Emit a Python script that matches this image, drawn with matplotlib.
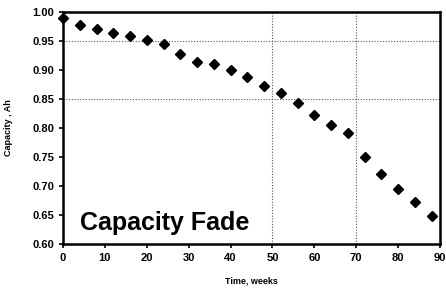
import matplotlib
matplotlib.use("Agg")
import matplotlib.pyplot as plt

# Datos
semanas = [0, 4, 8, 12, 16, 20, 24, 28, 32, 36, 40, 44, 48, 52, 56, 60, 64, 68, 72, 76, 80, 84, 88]
capacidad = [0.989, 0.978, 0.971, 0.964, 0.959, 0.952, 0.945, 0.927, 0.914, 0.910,
             0.900, 0.888, 0.872, 0.860, 0.843, 0.822, 0.805, 0.791, 0.750, 0.721,
             0.695, 0.672, 0.648]
x_ticks = [0, 10, 20, 30, 40, 50, 60, 70, 80, 90]
y_ticks = [0.60, 0.65, 0.70, 0.75, 0.80, 0.85, 0.90, 0.95, 1.00]
rejilla_x = [50, 70]
rejilla_y = [0.85, 0.95]

plt.rcParams['font.family'] = ['Liberation Sans', 'DejaVu Sans']
plt.rcParams['font.weight'] = 'bold'

fig = plt.figure(figsize=(4.46, 2.95), dpi=100)
ax = fig.add_axes([63 / 446, 1 - 244 / 295, 377 / 446, 232 / 295])

for gx in rejilla_x:
    ax.axvline(gx, color='#555555', lw=0.8, ls=(0, (1, 1.5)), zorder=1)
for gy in rejilla_y:
    ax.axhline(gy, color='#555555', lw=0.8, ls=(0, (1, 1.5)), zorder=1)

ax.plot(semanas, capacidad, 'D', color='black', markersize=5.5, zorder=3, clip_on=False)

ax.set_xlim(0, 90)
ax.set_ylim(0.60, 1.00)
ax.set_xticks(x_ticks)
ax.set_yticks(y_ticks)
ax.set_yticklabels([f"{v:.2f}" for v in y_ticks])
ax.tick_params(axis='both', labelsize=8, width=1.2, length=3, direction='out')
for lbl in ax.get_xticklabels() + ax.get_yticklabels():
    lbl.set_fontweight('bold')

for s in ax.spines.values():
    s.set_linewidth(1.8)

ax.set_xlabel('Time, weeks', fontsize=6.5, fontweight='bold', labelpad=10)
ax.set_ylabel('Capacity , Ah', fontsize=6.5, fontweight='bold', labelpad=14)

ax.text(4, 0.637, 'Capacity Fade', fontsize=18, fontweight='bold', ha='left', va='center')

fig.savefig('out.png', dpi=100)
